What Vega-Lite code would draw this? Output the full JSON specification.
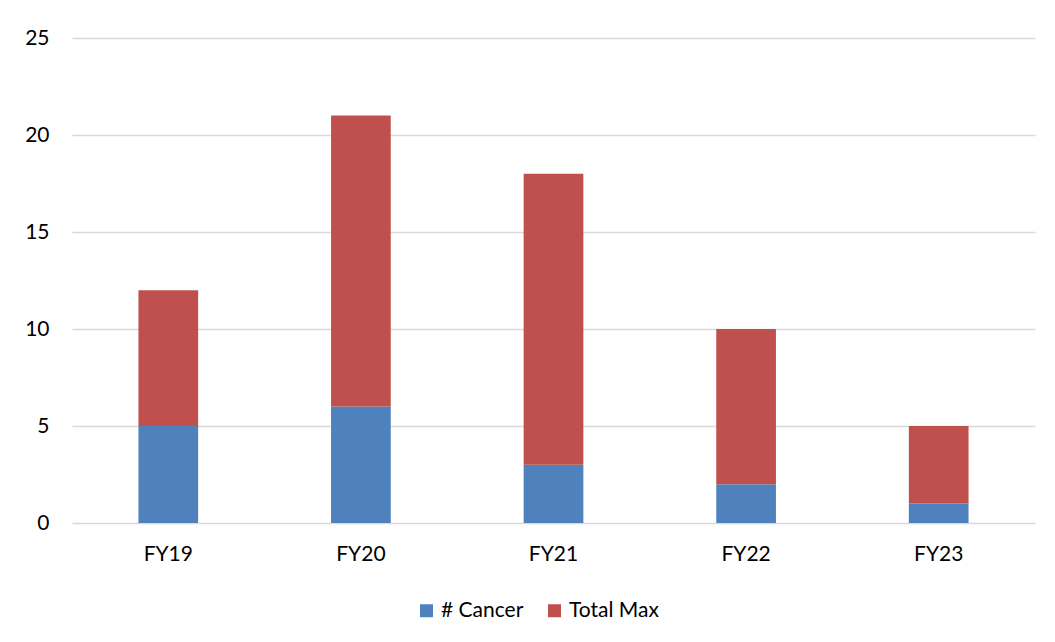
{
  "$schema": "https://vega.github.io/schema/vega-lite/v6.json",
  "width": 963,
  "height": 485,
  "autosize": "none",
  "padding": {"left": 72, "top": 38, "right": 20, "bottom": 119},
  "background": "white",
  "config": {
    "font": "Lato",
    "view": {"stroke": null}
  },
  "data": {
    "values": [
      {"year": "FY19", "series": "# Cancer", "value": 5},
      {"year": "FY19", "series": "Total Max", "value": 7},
      {"year": "FY20", "series": "# Cancer", "value": 6},
      {"year": "FY20", "series": "Total Max", "value": 15},
      {"year": "FY21", "series": "# Cancer", "value": 3},
      {"year": "FY21", "series": "Total Max", "value": 15},
      {"year": "FY22", "series": "# Cancer", "value": 2},
      {"year": "FY22", "series": "Total Max", "value": 8},
      {"year": "FY23", "series": "# Cancer", "value": 1},
      {"year": "FY23", "series": "Total Max", "value": 4}
    ]
  },
  "mark": {"type": "bar"},
  "encoding": {
    "x": {
      "field": "year",
      "type": "nominal",
      "sort": null,
      "title": null,
      "scale": {"paddingInner": 0.69, "paddingOuter": 0.345},
      "axis": {
        "domain": false,
        "ticks": false,
        "labelAngle": 0,
        "labelFontSize": 21,
        "labelColor": "#000000",
        "labelPadding": 20
      }
    },
    "y": {
      "field": "value",
      "type": "quantitative",
      "stack": "zero",
      "title": null,
      "scale": {"domain": [0, 25], "nice": false},
      "axis": {
        "values": [0, 5, 10, 15, 20, 25],
        "domain": false,
        "ticks": false,
        "gridColor": "#D9D9D9",
        "gridWidth": 1.5,
        "labelFontSize": 21,
        "labelColor": "#000000",
        "labelPadding": 23
      }
    },
    "color": {
      "field": "series",
      "type": "nominal",
      "scale": {"domain": ["# Cancer", "Total Max"], "range": ["#4F81BD", "#C0504D"]},
      "legend": {
        "title": null,
        "orient": "none",
        "direction": "horizontal",
        "legendX": 344,
        "legendY": 562,
        "symbolType": "square",
        "symbolSize": 169,
        "symbolStrokeWidth": 0,
        "labelFontSize": 21,
        "labelColor": "#000000",
        "labelOffset": 4,
        "columnPadding": 20
      }
    },
    "order": {"field": "series", "sort": "ascending"}
  }
}
